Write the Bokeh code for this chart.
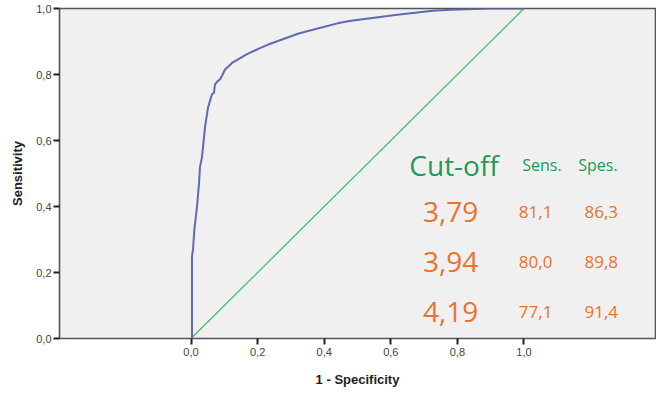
from bokeh.plotting import figure
from bokeh.models import Range1d, FixedTicker, CustomJSTickFormatter, ColumnDataSource
from bokeh.core.properties import value
from bokeh.embed import file_html
from bokeh.resources import INLINE

# ROC curve (1 - specificity, sensitivity)
fpr = [0.0, 0.003, 0.003, 0.006, 0.010, 0.018, 0.024, 0.027, 0.033, 0.036, 0.042,
       0.051, 0.057, 0.063, 0.069, 0.072, 0.080, 0.087, 0.095, 0.102, 0.113, 0.123,
       0.140, 0.168, 0.190, 0.207, 0.230, 0.257, 0.290, 0.326, 0.360, 0.395, 0.440,
       0.476, 0.520, 0.557, 0.590, 0.626, 0.680, 0.725, 0.780, 0.826, 0.900, 1.0]
tpr = [0.0, 0.0, 0.25, 0.27, 0.33, 0.40, 0.47, 0.52, 0.55, 0.58, 0.64,
       0.70, 0.72, 0.74, 0.745, 0.77, 0.78, 0.785, 0.80, 0.815, 0.825, 0.835,
       0.845, 0.862, 0.872, 0.88, 0.89, 0.90, 0.912, 0.925, 0.934, 0.943, 0.955,
       0.962, 0.968, 0.973, 0.977, 0.982, 0.988, 0.993, 0.996, 0.998, 1.0, 1.0]
ref_x = [0.0, 1.0]
ref_y = [0.0, 1.0]

x_ticks = [0.0, 0.2, 0.4, 0.6, 0.8, 1.0]
y_ticks = [0.0, 0.2, 0.4, 0.6, 0.8, 1.0]

# Cut-off table
header_text = ["Cut-off", "Sens.", "Spes."]
cutoffs = ["3,79", "3,94", "4,19"]
sens = ["81,1", "80,0", "77,1"]
spes = ["86,3", "89,8", "91,4"]

# text anchor positions in data units
col_cut, col_sens, col_spes = 0.78, 1.035, 1.232
head_x = [0.79, 1.054, 1.222]
head_y = 0.527
row_y = [0.383, 0.232, 0.081]

p = figure(width=656, height=389, output_backend="svg", toolbar_location=None,
           x_range=Range1d(-0.395, 1.395), y_range=Range1d(0, 1),
           min_border_top=8, min_border_left=59, min_border_right=1, min_border_bottom=49)
p.background_fill_color = "#f0f0f0"
p.border_fill_color = "white"
p.outline_line_color = "#555555"
p.outline_line_width = 1.6
p.grid.visible = False

fmt = CustomJSTickFormatter(code="return tick.toFixed(1).replace('.', ',');")
for ax, ticks in ((p.xaxis, x_ticks), (p.yaxis, y_ticks)):
    ax.ticker = FixedTicker(ticks=ticks)
    ax.formatter = fmt
    ax.axis_line_color = None
    ax.major_tick_in = 0
    ax.major_tick_out = 6
    ax.major_tick_line_width = 2
    ax.major_tick_line_color = "#222222"
    ax.minor_tick_line_color = None
    ax.major_label_text_font = "Liberation Sans"
    ax.major_label_text_font_size = "11px"
    ax.major_label_text_color = "#444444"
    ax.axis_label_text_font = "Liberation Sans"
    ax.axis_label_text_font_style = "bold"
    ax.axis_label_text_font_size = "13px"
    ax.axis_label_text_color = "#222222"

p.xaxis.axis_label = "1 - Specificity"
p.yaxis.axis_label = "Sensitivity"
p.xaxis.major_label_standoff = 3
p.xaxis.axis_label_standoff = 13
p.yaxis.major_label_standoff = 2
p.yaxis.axis_label_standoff = 8

p.line(ref_x, ref_y, line_color="#4dbb5f", line_width=1.3)
p.line(fpr, tpr, line_color="#5f6ab2", line_width=2)

green = "#23995a"
orange = "#e8742d"
font = value("Open Sans")

p.text(x=head_x[:1], y=[head_y], text=header_text[:1], text_font=font,
       text_font_size="28px", text_color=green, text_align="center",
       text_baseline="alphabetic")
p.text(x=head_x[1:], y=[head_y, head_y], text=header_text[1:], text_font=font,
       text_font_size="16px", text_color=green, text_align="center",
       text_baseline="alphabetic")

src = ColumnDataSource(dict(xc=[col_cut] * 3, xs=[col_sens] * 3, xp=[col_spes] * 3,
                            y=row_y, cut=cutoffs, sens=sens, spes=spes))
p.text(x="xc", y="y", text="cut", source=src, text_font=font, text_font_size="28px",
       text_color=orange, text_align="center", text_baseline="alphabetic")
p.text(x="xs", y="y", text="sens", source=src, text_font=font, text_font_size="17px",
       text_color=orange, text_align="center", text_baseline="alphabetic")
p.text(x="xp", y="y", text="spes", source=src, text_font=font, text_font_size="17px",
       text_color=orange, text_align="center", text_baseline="alphabetic")

open("out.html", "w").write(file_html(p, INLINE))
